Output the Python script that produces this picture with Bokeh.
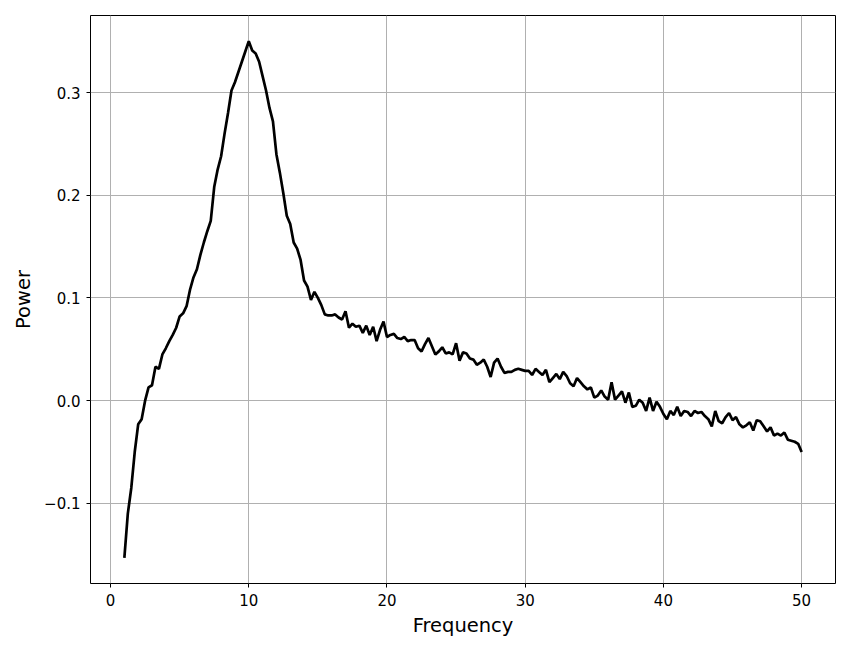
import numpy as np
from bokeh.plotting import figure
from bokeh.models import Range1d, FixedTicker, CustomJSTickFormatter
from bokeh.embed import file_html
from bokeh.resources import INLINE

freq_start = 1.0
freq_step = 0.25
power = [
    -0.153, -0.110, -0.085, -0.050, -0.023, -0.018, 0.000, 0.013, 0.015, 0.033,
    0.031, 0.045, 0.051, 0.058, 0.064, 0.071, 0.082, 0.085, 0.092, 0.108,
    0.120, 0.128, 0.142, 0.154, 0.165, 0.175, 0.208, 0.225, 0.238, 0.260,
    0.280, 0.302, 0.310, 0.320, 0.330, 0.340, 0.350, 0.341, 0.338, 0.330,
    0.316, 0.302, 0.285, 0.272, 0.240, 0.222, 0.202, 0.180, 0.172, 0.154,
    0.148, 0.137, 0.117, 0.111, 0.098, 0.106, 0.100, 0.093, 0.084, 0.083,
    0.083, 0.084, 0.081, 0.079, 0.087, 0.071, 0.075, 0.072, 0.073, 0.066,
    0.073, 0.064, 0.072, 0.058, 0.069, 0.077, 0.062, 0.064, 0.065, 0.061,
    0.060, 0.062, 0.058, 0.059, 0.059, 0.051, 0.048, 0.055, 0.061, 0.053,
    0.045, 0.048, 0.052, 0.046, 0.047, 0.045, 0.056, 0.039, 0.047, 0.046,
    0.041, 0.040, 0.035, 0.037, 0.040, 0.033, 0.023, 0.037, 0.041, 0.033,
    0.027, 0.028, 0.028, 0.030, 0.031, 0.030, 0.029, 0.029, 0.025, 0.031,
    0.028, 0.025, 0.030, 0.018, 0.022, 0.026, 0.021, 0.028, 0.024, 0.017,
    0.014, 0.022, 0.018, 0.014, 0.011, 0.013, 0.003, 0.005, 0.010, 0.004,
    0.001, 0.018, 0.001, 0.005, 0.009, -0.002, 0.008, -0.006, -0.005, 0.001,
    -0.002, -0.010, 0.003, -0.010, -0.001, -0.006, -0.013, -0.018, -0.010, -0.014,
    -0.006, -0.015, -0.010, -0.011, -0.015, -0.010, -0.012, -0.011, -0.015, -0.018,
    -0.025, -0.010, -0.020, -0.022, -0.016, -0.012, -0.019, -0.016, -0.023, -0.026,
    -0.024, -0.021, -0.029, -0.019, -0.020, -0.025, -0.030, -0.026, -0.034, -0.032,
    -0.034, -0.031, -0.038, -0.039, -0.040, -0.042, -0.050,
]
frequency = [freq_start + i * freq_step for i in range(len(power))]

x_ticks = [0, 10, 20, 30, 40, 50]
y_ticks = [-0.1, 0.0, 0.1, 0.2, 0.3]

p = figure(width=850, height=650, output_backend="svg", toolbar_location=None,
           x_range=Range1d(-1.45, 52.45), y_range=Range1d(-0.178, 0.375),
           min_border_left=90, min_border_right=15, min_border_top=15,
           min_border_bottom=67)
p.background_fill_color = "white"
p.border_fill_color = "white"
p.outline_line_color = "black"
p.outline_line_width = 1

p.line(frequency, power, line_color="black", line_width=2.7)

p.xaxis.ticker = FixedTicker(ticks=x_ticks)
p.yaxis.ticker = FixedTicker(ticks=y_ticks)
p.yaxis.formatter = CustomJSTickFormatter(
    code="return tick.toFixed(1).replace('-', '\u2212');")
p.xaxis.formatter = CustomJSTickFormatter(code="return tick.toFixed(0);")

for ax in (p.xaxis, p.yaxis):
    ax.axis_line_color = None
    ax.major_tick_in = 0
    ax.major_tick_out = 4
    ax.major_tick_line_color = "black"
    ax.minor_tick_line_color = None
    ax.major_label_text_font = "DejaVu Sans"
    ax.major_label_text_font_size = "15px"
    ax.major_label_text_color = "black"
    ax.axis_label_text_font = "DejaVu Sans"
    ax.axis_label_text_font_size = "19.5px"
    ax.axis_label_text_font_style = "normal"
    ax.axis_label_text_color = "black"

p.xaxis.axis_label = "Frequency"
p.yaxis.axis_label = "Power"
p.xaxis.major_label_standoff = 6
p.yaxis.major_label_standoff = 6
p.xaxis.axis_label_standoff = 5
p.yaxis.axis_label_standoff = 6

p.grid.grid_line_color = "#b0b0b0"
p.grid.grid_line_width = 1

open("out.html", "w").write(file_html(p, INLINE))
